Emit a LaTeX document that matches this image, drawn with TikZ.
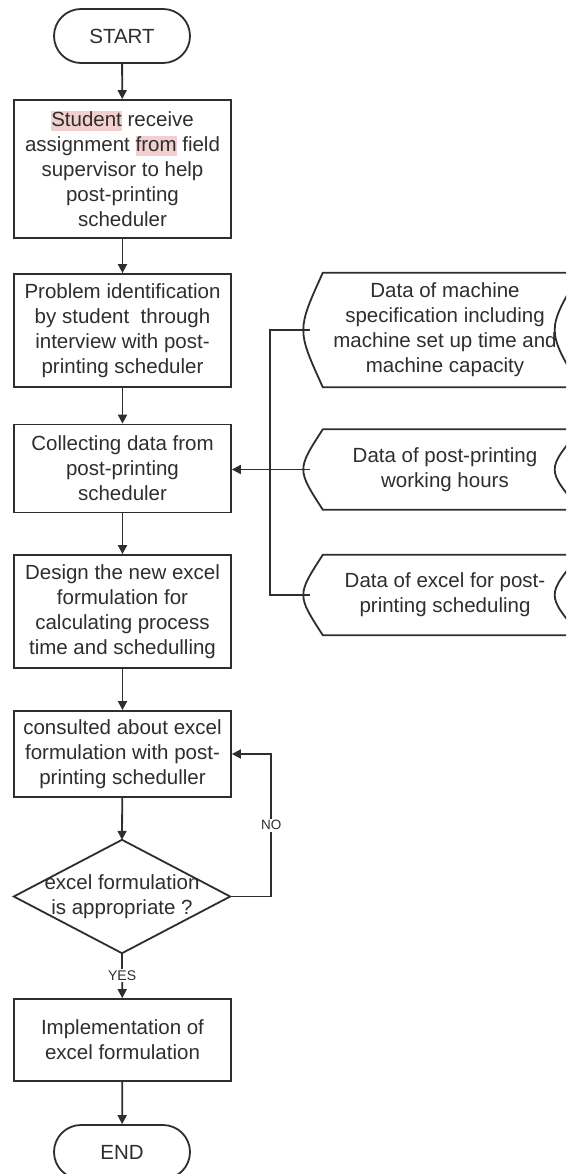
\documentclass[tikz,border=0pt]{standalone}
\usepackage{fontspec}
\setmainfont{Liberation Sans}
\usetikzlibrary{arrows.meta}
\definecolor{ink}{HTML}{2E2E2E}
\definecolor{hlpink}{HTML}{F3D0D0}
\newcommand\hlword[1]{\begingroup\setlength{\fboxsep}{0pt}\colorbox{hlpink}{\vphantom{Sg}#1}\endgroup}
\tikzset{
  x=1pt, y=-1pt,
  every node/.style={font=\fontsize{20.5}{25}\selectfont, text=ink},
  line/.style={draw=ink, line width=1.8pt},
  arr/.style={line, -{Triangle[length=9pt,width=9pt]}},
  procbox/.style={line, rectangle, minimum width=217, align=center, inner sep=2pt},
  termbox/.style={line, rectangle, rounded corners=27, minimum width=136, minimum height=54},
  decarea/.style={rectangle, minimum width=216, minimum height=113, inner sep=0pt, align=center},
  datashape/.style={rectangle, minimum width=270, align=center, inner sep=0pt},
  tag/.style={font=\fontsize{13.5}{15}\selectfont, fill=white, inner sep=1.5pt, text=ink}
}
\begin{document}
\begin{tikzpicture}
\useasboundingbox (0,0) rectangle (566,1174);
\clip (0,0) rectangle (566,1174);
\fill[white] (0,0) rectangle (566,1174);

% main column
\node[termbox] (start) at (122,36) {START};
\node[procbox, minimum height=138] (b1) at (122.5,169)
  {\hlword{Student} receive\\assignment \hlword{from} field\\supervisor to help\\post-printing\\scheduler};
\node[procbox, minimum height=113] (b2) at (122.5,330.5)
  {Problem identification\\by student\ \ through\\interview with post-\\printing scheduler};
\node[procbox, minimum height=88] (b3) at (122.5,468.5)
  {Collecting data from\\post-printing\\scheduler};
\node[procbox, minimum height=113] (b4) at (122.5,611.5)
  {Design the new excel\\formulation for\\calculating process\\time and schedulling};
\node[procbox, minimum height=86] (b5) at (122.5,754)
  {consulted about excel\\formulation with post-\\printing scheduller};
\node[decarea] (dec) at (122,896.5) {excel formulation\\is appropriate ?};
\draw[line] (dec.north) -- (dec.east) -- (dec.south) -- (dec.west) -- cycle;
\node[procbox, minimum height=82] (b6) at (122.5,1040)
  {Implementation of\\excel formulation};
\node[termbox] (end) at (122,1152) {END};

% data sources on the right
\node[datashape, minimum height=114] (d1) at (445,330)
  {Data of machine\\specification including\\machine set up time and\\machine capacity};
\node[datashape, minimum height=80] (d2) at (445,469.5)
  {Data of post-printing\\working hours};
\node[datashape, minimum height=80] (d3) at (445,595)
  {Data of excel for post-\\printing scheduling};
\foreach \d in {d1,d2,d3}{
  \draw[line] ([xshift=13]\d.north west) -- (\d.north east)
    .. controls ([xshift=-34]\d.east) .. (\d.south east)
    -- ([xshift=13]\d.south west)
    .. controls ([xshift=-13]\d.west) .. cycle;
}

% flow connectors
\draw[arr] (start) -- (b1);
\draw[arr] (b1) -- (b2);
\draw[arr] (b2) -- (b3);
\draw[arr] (b3) -- (b4);
\draw[arr] (b4) -- (b5);
\draw[arr] (b5) -- (dec.north);
\draw[arr] (dec.south) -- (b6) node[midway, tag, font=\fontsize{14}{15}\selectfont] {YES};
\draw[arr] (dec.east) -- ++(41,0) |- (b5.east) node[pos=0.25, tag] {NO};
\draw[arr] (b6) -- (end);

% data bus into the collection step
\draw[line] (d1.west) -- ++(-40,0) |- (d3.west);
\draw[arr] (d2.west) -- (d2.west -| b3.east);
\end{tikzpicture}
\end{document}
